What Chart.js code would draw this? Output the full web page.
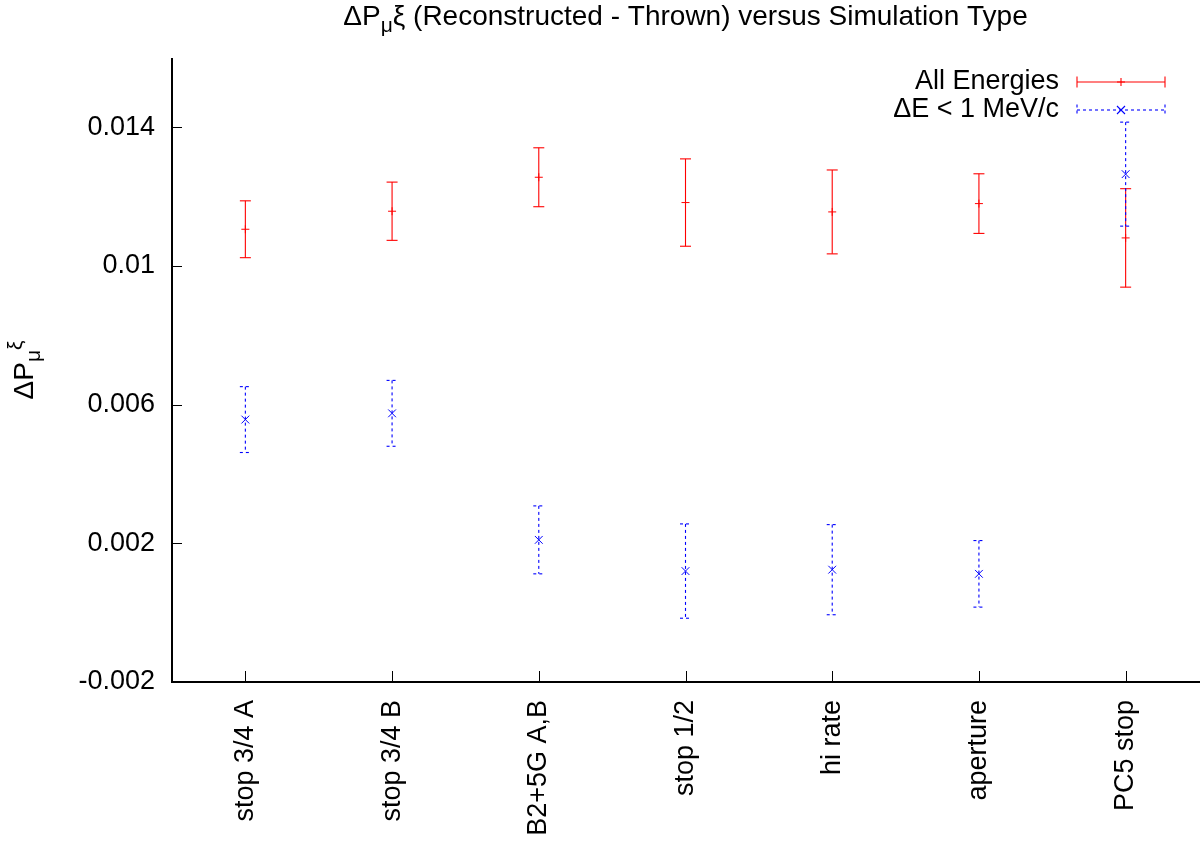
<!DOCTYPE html>
<html>
<head>
<meta charset="utf-8">
<script src="https://cdn.jsdelivr.net/npm/chart.js@4.4.1/dist/chart.umd.min.js"></script>
<style>
  html, body { margin: 0; padding: 0; background: #fff; }
  #wrap { width: 1201px; height: 842px; }
</style>
</head>
<body>
<div id="wrap"><canvas id="chart" width="1201" height="842"></canvas></div>
<script>
// values
const simTypes = ['stop 3/4 A', 'stop 3/4 B', 'B2+5G A,B', 'stop 1/2', 'hi rate', 'aperture', 'PC5 stop'];
const allEnergies = [0.01106, 0.01158, 0.01256, 0.01183, 0.01156, 0.01180, 0.01081];
const allEnergiesErr = [0.00082, 0.00084, 0.00085, 0.00126, 0.00121, 0.00086, 0.00142];
const lowDE = [0.00557, 0.00575, 0.00210, 0.00120, 0.00124, 0.00112, 0.01265];
const lowDEErr = [0.00095, 0.00095, 0.00098, 0.00136, 0.00130, 0.00096, 0.00150];
const yTicks = [-0.002, 0.002, 0.006, 0.010, 0.014];
const yMin = -0.002, yMax = 0.016;

const FONT = '"Liberation Sans", Arial, sans-serif';
const RED = '#ff0000', BLUE = '#0000ff';
const errSeries = [allEnergiesErr, lowDEErr];
const dashes = [[], [3, 3]];

Chart.defaults.font.family = FONT;
Chart.defaults.font.size = 27;
Chart.defaults.color = '#000';

function drawCap(ctx, x, y, half) {
  ctx.beginPath();
  ctx.moveTo(x - half, y); ctx.lineTo(x + half, y);
  ctx.stroke();
}

// vertical error bars with small caps
const errorBars = {
  id: 'errorBars',
  afterDatasetsDraw(chart) {
    const ctx = chart.ctx, yScale = chart.scales.y;
    chart.data.datasets.forEach((ds, di) => {
      const meta = chart.getDatasetMeta(di);
      const errs = errSeries[di];
      ctx.save();
      ctx.strokeStyle = ds.borderColor;
      ctx.lineWidth = 1.1;
      ctx.setLineDash(dashes[di]);
      meta.data.forEach((pt, i) => {
        const v = ds.data[i];
        const yt = yScale.getPixelForValue(v + errs[i]);
        const yb = yScale.getPixelForValue(v - errs[i]);
        ctx.beginPath();
        ctx.moveTo(pt.x, yt); ctx.lineTo(pt.x, yb);
        ctx.stroke();
        drawCap(ctx, pt.x, yt, 5.5);
        drawCap(ctx, pt.x, yb, 5.5);
      });
      ctx.restore();
    });
  }
};

// gnuplot style axes: left + bottom border with inward ticks
const axesPlugin = {
  id: 'axesPlugin',
  afterDraw(chart) {
    const ctx = chart.ctx, a = chart.chartArea;
    const xs = chart.scales.x, ys = chart.scales.y;
    ctx.save();
    ctx.strokeStyle = '#000';
    ctx.lineWidth = 1;
    yTicks.forEach(v => {
      const y = Math.round(ys.getPixelForValue(v)) + 0.5;
      ctx.beginPath(); ctx.moveTo(a.left, y); ctx.lineTo(a.left + 10, y); ctx.stroke();
    });
    simTypes.forEach((s, i) => {
      const x = Math.round(xs.getPixelForValue(i)) + 0.5;
      ctx.beginPath(); ctx.moveTo(x, a.bottom); ctx.lineTo(x, a.bottom - 11); ctx.stroke();
    });
    ctx.lineWidth = 2;
    ctx.beginPath();
    ctx.moveTo(a.left, a.top);
    ctx.lineTo(a.left, a.bottom);
    ctx.lineTo(a.right + 1, a.bottom);
    ctx.stroke();
    ctx.restore();
  }
};

// text with sub/superscripts
function richWidth(ctx, parts) {
  let w = 0;
  parts.forEach(p => { ctx.font = p.s + 'px ' + FONT; w += ctx.measureText(p.t).width; });
  return w;
}
function drawRich(ctx, parts, x, y) {
  ctx.textAlign = 'left';
  ctx.textBaseline = 'alphabetic';
  parts.forEach(p => {
    ctx.font = p.s + 'px ' + FONT;
    ctx.fillText(p.t, x, y + p.dy);
    x += ctx.measureText(p.t).width;
  });
}

const titlePlugin = {
  id: 'titlePlugin',
  afterDraw(chart) {
    const ctx = chart.ctx, a = chart.chartArea;
    ctx.save();
    ctx.fillStyle = '#000';
    const title = [
      { t: 'ΔP', s: 28, dy: 0 },
      { t: 'μ', s: 21, dy: 7 },
      { t: 'ξ (Reconstructed - Thrown) versus Simulation Type', s: 28, dy: 0 }
    ];
    const cx = (a.left + a.right) / 2;
    drawRich(ctx, title, cx - richWidth(ctx, title) / 2, 25);

    const ylab = [
      { t: 'ΔP', s: 28, dy: 0 },
      { t: 'μ', s: 21, dy: 7 },
      { t: 'ξ', s: 21, dy: -11 }
    ];
    ctx.translate(33, (a.top + a.bottom) / 2);
    ctx.rotate(-Math.PI / 2);
    drawRich(ctx, ylab, -richWidth(ctx, ylab) / 2, 0);
    ctx.restore();
  }
};

const legendPlugin = {
  id: 'legendPlugin',
  afterDraw(chart) {
    const ctx = chart.ctx, a = chart.chartArea;
    const textX = a.right - 140, x0 = a.right - 122, x1 = a.right - 34;
    const xm = (x0 + x1) / 2;
    ctx.save();
    chart.data.datasets.forEach((ds, di) => {
      const y = a.top + 24 + di * 28;
      ctx.fillStyle = '#000';
      ctx.font = '27px ' + FONT;
      ctx.textAlign = 'right';
      ctx.textBaseline = 'middle';
      ctx.fillText(ds.label, textX, y);
      ctx.strokeStyle = ds.borderColor;
      ctx.lineWidth = 1.1;
      ctx.setLineDash(dashes[di]);
      ctx.beginPath(); ctx.moveTo(x0, y); ctx.lineTo(x1, y); ctx.stroke();
      [x0, x1].forEach(x => {
        ctx.beginPath(); ctx.moveTo(x, y - 5.5); ctx.lineTo(x, y + 5.5); ctx.stroke();
      });
      ctx.setLineDash([]);
      ctx.beginPath();
      if (di === 0) {
        ctx.moveTo(xm, y - 4); ctx.lineTo(xm, y + 4);
        ctx.moveTo(xm - 4, y); ctx.lineTo(xm + 4, y);
      } else {
        ctx.moveTo(xm - 4, y - 4); ctx.lineTo(xm + 4, y + 4);
        ctx.moveTo(xm - 4, y + 4); ctx.lineTo(xm + 4, y - 4);
      }
      ctx.stroke();
    });
    ctx.restore();
  }
};

const ctx = document.getElementById('chart').getContext('2d');
new Chart(ctx, {
  type: 'line',
  data: {
    labels: simTypes,
    datasets: [
      {
        label: 'All Energies', data: allEnergies, showLine: false,
        borderColor: RED, pointBorderColor: RED, pointBackgroundColor: RED,
        pointStyle: 'cross', pointRadius: 4, pointBorderWidth: 1
      },
      {
        label: 'ΔE < 1 MeV/c', data: lowDE, showLine: false,
        borderColor: BLUE, pointBorderColor: BLUE, pointBackgroundColor: BLUE,
        pointStyle: 'crossRot', pointRadius: 5.5, pointBorderWidth: 1
      }
    ]
  },
  options: {
    animation: false,
    responsive: false,
    layout: { autoPadding: false, padding: { top: 58, right: 2, left: 0, bottom: 0 } },
    plugins: { legend: { display: false }, tooltip: { enabled: false }, title: { display: false } },
    scales: {
      x: {
        offset: true,
        grid: { display: false, drawTicks: false },
        border: { display: false },
        ticks: { minRotation: 90, maxRotation: 90, padding: 18, autoSkip: false },
        afterFit: s => { s.height = 160; s.paddingLeft = 0; s.paddingRight = 0; }
      },
      y: {
        min: yMin, max: yMax,
        grid: { display: false, drawTicks: false },
        border: { display: false },
        afterBuildTicks: s => { s.ticks = yTicks.map(v => ({ value: v })); },
        ticks: { padding: 17, callback: v => String(parseFloat(Number(v).toFixed(4))) },
        afterFit: s => { s.width = 172; }
      }
    }
  },
  plugins: [errorBars, axesPlugin, titlePlugin, legendPlugin]
});
</script>
</body>
</html>
